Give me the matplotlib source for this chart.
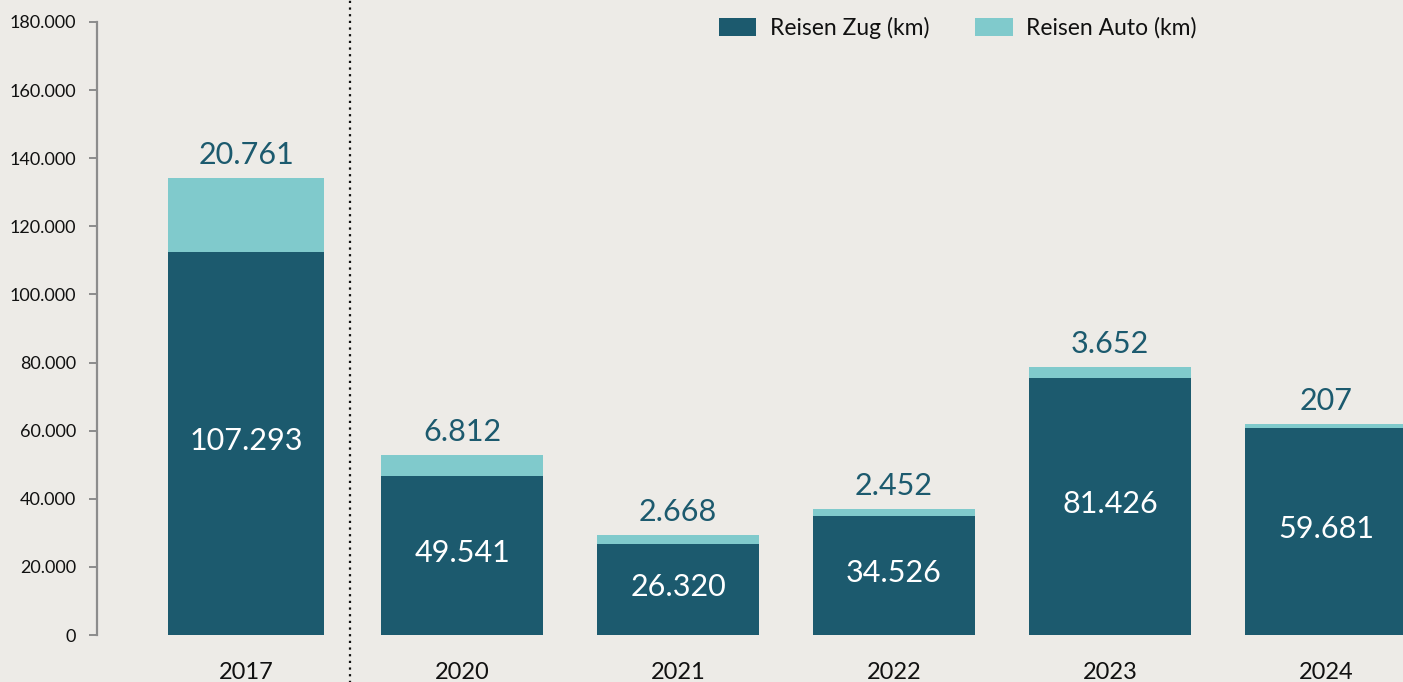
import matplotlib
matplotlib.use("Agg")
import matplotlib.pyplot as plt
import matplotlib.transforms as mtransforms

# ---- data ----
years = ["2017", "2020", "2021", "2022", "2023", "2024"]
train_km = [112450, 46690, 26720, 34940, 75460, 60780]   # drawn bar heights
car_km = [21730, 6170, 2640, 2060, 3230, 1170]
train_labels = ["107.293", "49.541", "26.320", "34.526", "81.426", "59.681"]
car_labels = ["20.761", "6.812", "2.668", "2.452", "3.652", "207"]
yticks = [0, 20000, 40000, 60000, 80000, 100000, 120000, 140000, 160000, 180000]
series_names = ["Reisen Zug (km)", "Reisen Auto (km)"]

# ---- style ----
BG = "#EDEBE7"
DARK = "#1C5A6E"
LIGHT = "#80CACC"
FONT = "Lato"
bar_widths = [0.72, 0.75, 0.75, 0.75, 0.75, 0.75]

plt.rcParams["font.family"] = [FONT, "DejaVu Sans"]

fig = plt.figure(figsize=(14.03, 6.82), dpi=100, facecolor=BG)
ax = fig.add_axes([97 / 1403, 1 - 635 / 682, 1 - 97 / 1403, (635 - 22) / 682])
ax.set_facecolor(BG)

x = list(range(len(years)))
ax.bar(x, train_km, width=bar_widths, color=DARK, label=series_names[0], zorder=2)
ax.bar(x, car_km, width=bar_widths, bottom=train_km, color=LIGHT,
       label=series_names[1], zorder=2)

for xi, t, c, tl, cl in zip(x, train_km, car_km, train_labels, car_labels):
    ax.annotate(tl, xy=(xi, t / 2), xytext=(0, 2), textcoords="offset points",
                ha="center", va="center", color="white", fontsize=22, zorder=3)
    ax.annotate(cl, xy=(xi, t + c), xytext=(0, 10), textcoords="offset points",
                ha="center", va="baseline", color=DARK, fontsize=22, zorder=3)

ax.set_xlim(-0.690, 5.356)
ax.set_ylim(0, 180000)

ax.set_yticks(yticks)
ax.set_yticklabels([f"{v:,}".replace(",", ".") for v in yticks])
ax.tick_params(axis="y", length=6, width=1.4, color="#8C8C8C", pad=9,
               labelsize=13, labelcolor="#111111")
ax.set_xticks(x)
ax.set_xticklabels(years)
ax.tick_params(axis="x", length=0, pad=19.5, labelsize=17, labelcolor="#111111")

for s in ["top", "right", "bottom"]:
    ax.spines[s].set_visible(False)
ax.spines["left"].set_color("#8C8C8C")
ax.spines["left"].set_linewidth(1.6)

# dotted separator between 2017 and 2020
trans = mtransforms.blended_transform_factory(ax.transData, ax.transAxes)
ax.plot([0.481, 0.481], [-0.1, 1.05], transform=trans, color="#111111",
        linestyle=(0, (1, 2)), linewidth=1.6, clip_on=False, zorder=1)

leg = ax.legend(loc="center", bbox_to_anchor=(958 / 1403, 1 - 28 / 682),
                bbox_transform=fig.transFigure, ncol=2, frameon=False,
                fontsize=16.5, handlelength=1.62, handleheight=0.8,
                handletextpad=0.6, columnspacing=2.0)
for t in leg.get_texts():
    t.set_color("#111111")

fig.savefig("out.png", dpi=100, facecolor=BG)
